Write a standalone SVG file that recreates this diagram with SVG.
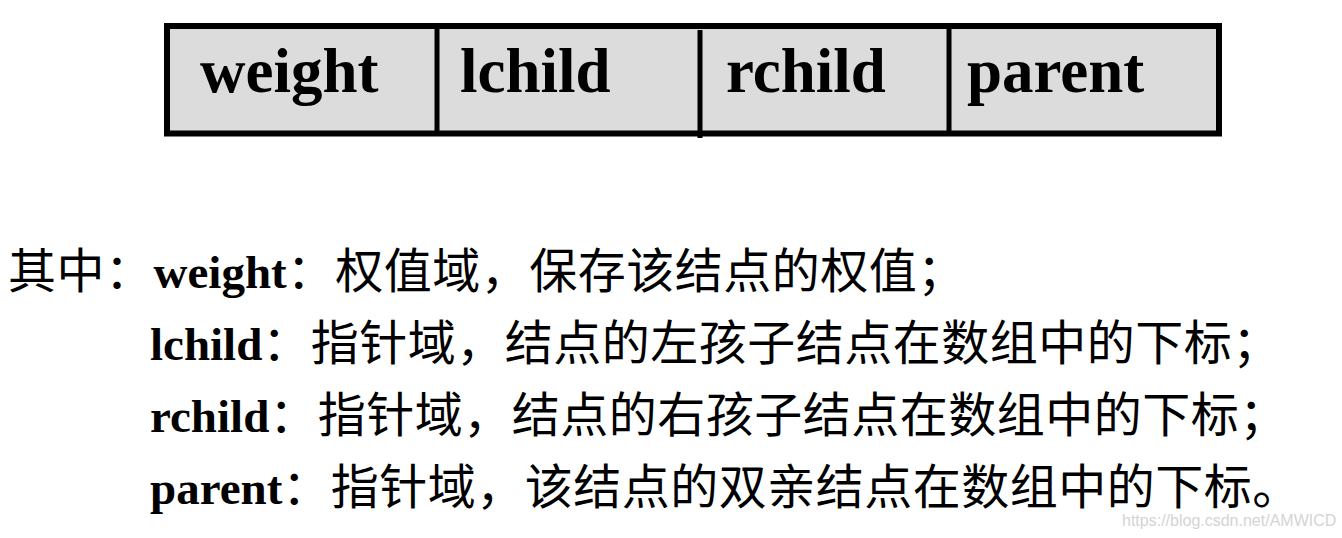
<svg xmlns="http://www.w3.org/2000/svg" width="1342" height="538" viewBox="0 0 1342 538">
<style>
.cell{fill:#dcdcdc;stroke:#000;stroke-width:6}
.div{stroke:#000;stroke-width:5}
.hd{font-family:"Liberation Serif","Times New Roman",serif;font-weight:bold;font-size:63px;fill:#000}
.b{font-family:"Liberation Serif","Times New Roman",serif;font-weight:bold;font-size:47px;letter-spacing:0}
.t{font-family:"Liberation Serif","Noto Sans CJK SC",sans-serif;font-size:47px;fill:#000}
.c{font-family:"Noto Sans CJK SC",sans-serif;font-weight:normal;font-size:48px;letter-spacing:0.5px}
.wm{font-family:"Liberation Sans",Arial,sans-serif;font-size:16px;fill:#d4d4d4}
</style>
<g id="table">
<rect class="cell" x="167" y="26" width="1052" height="107.5"/>
<line class="div" x1="437" y1="28" x2="437" y2="132"/>
<line class="div" x1="700" y1="30" x2="700" y2="138"/>
<line class="div" x1="949" y1="28" x2="949" y2="132"/>
<text class="hd" x="200" y="92">weight</text>
<text class="hd" x="460" y="92">lchild</text>
<text class="hd" x="726" y="92">rchild</text>
<text class="hd" x="967" y="92">parent</text>
</g>
<g id="desc">
<text class="t" x="8" y="288"><tspan class="c">其中：</tspan><tspan class="b">weight</tspan><tspan class="c">：权值域，保存该结点的权值；</tspan></text>
<text class="t" x="150" y="360"><tspan class="b">lchild</tspan><tspan class="c">：指针域，结点的左孩子结点在数组中的下标；</tspan></text>
<text class="t" x="150" y="432"><tspan class="b">rchild</tspan><tspan class="c">：指针域，结点的右孩子结点在数组中的下标；</tspan></text>
<text class="t" x="150" y="504"><tspan class="b">parent</tspan><tspan class="c">：指针域，该结点的双亲结点在数组中的下标。</tspan></text>
</g>
<text class="wm" x="1122" y="526">https://blog.csdn.net/AMWICD</text>
</svg>
